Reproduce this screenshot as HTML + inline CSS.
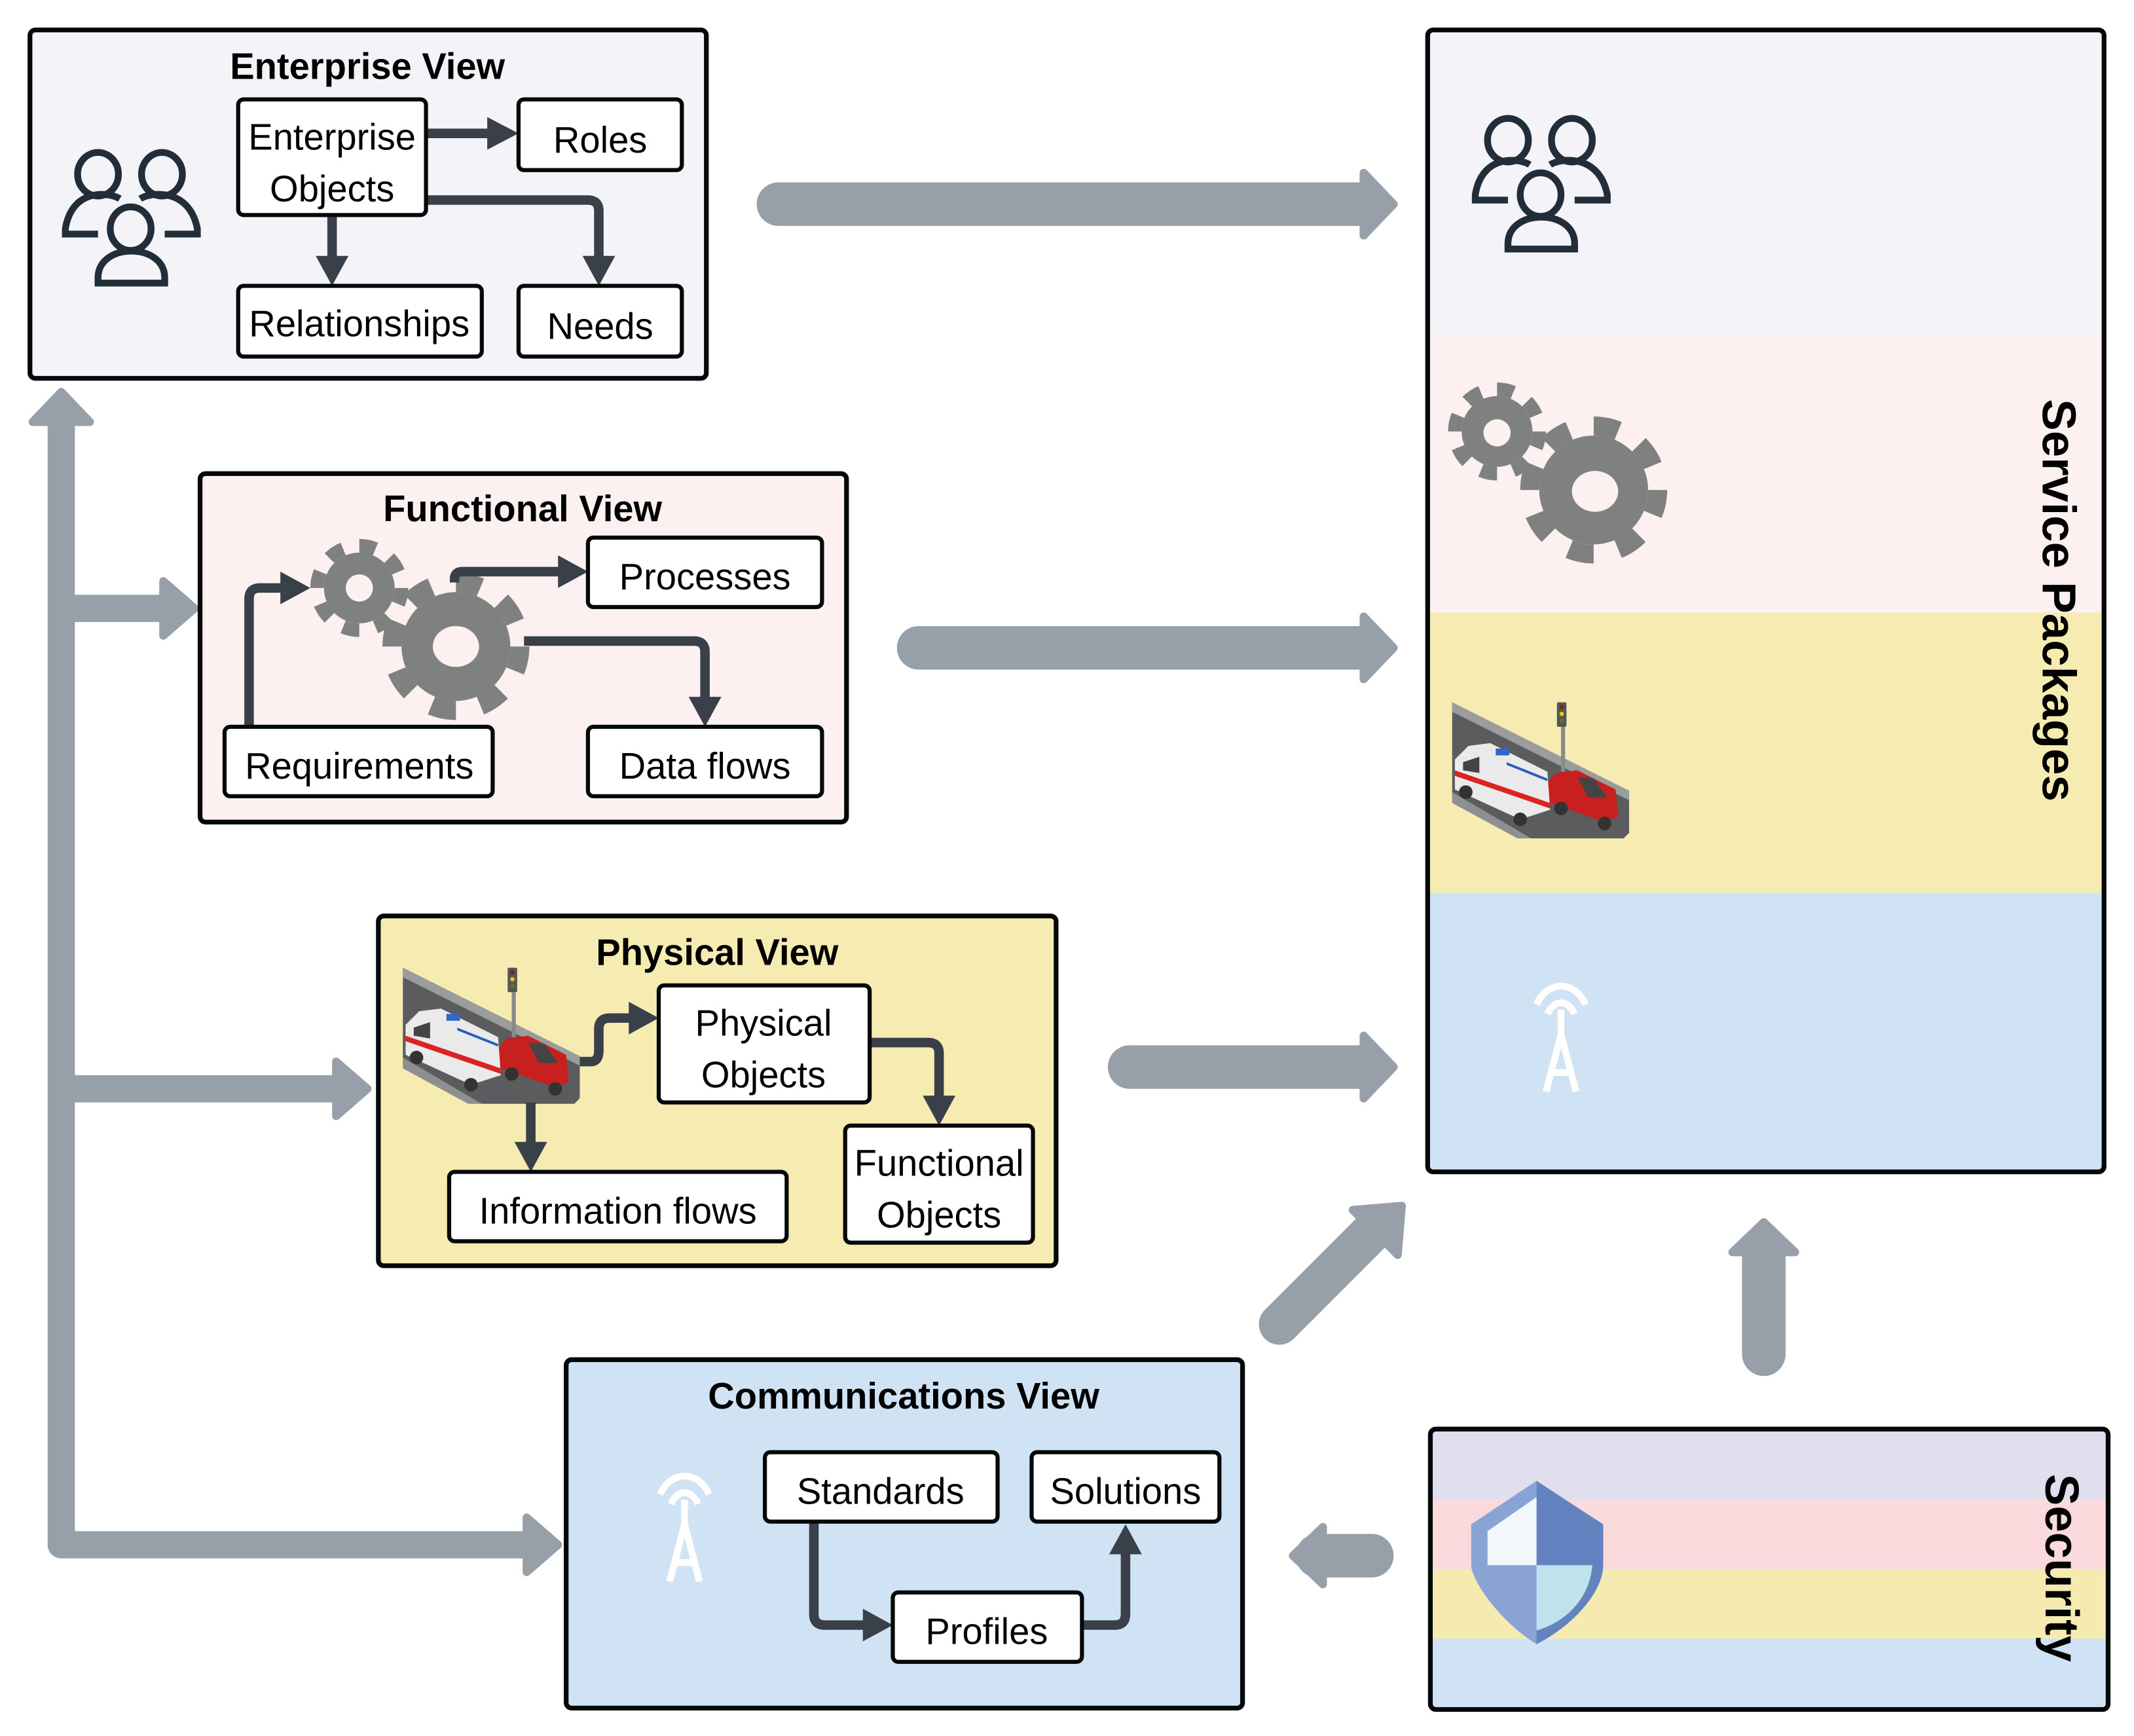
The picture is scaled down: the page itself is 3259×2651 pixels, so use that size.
<!DOCTYPE html>
<html><head><meta charset="utf-8"><style>
html,body{margin:0;padding:0;background:#fff;}
svg{display:block;}
text{font-family:"Liberation Sans",sans-serif;}
</style></head><body>
<svg width="3259" height="2651" viewBox="0 0 1568 1275.5" xmlns="http://www.w3.org/2000/svg">
<defs>
<symbol id="people" viewBox="0 0 104 102" overflow="visible">
<g fill="none" stroke="#222d3a" stroke-width="5">
<ellipse cx="27" cy="20" rx="15" ry="16"/>
<ellipse cx="74" cy="20" rx="15" ry="16"/>
<ellipse cx="51" cy="60" rx="15" ry="16"/>
<path d="M43,38 C35,33 8,30 3,60 L3,64 L27,64"/>
<path d="M58,38 C66,33 94,30 100,60 L100,64 L76,64"/>
<path d="M27,100 L27,96 C27,70 76,70 76,96 L76,100 Z"/>
</g></symbol>
<symbol id="antenna" viewBox="0 0 60 90" overflow="visible">
<g fill="none" stroke="#fff" stroke-width="5">
<path d="M12,26 C20,8 40,8 48,26"/>
<path d="M20,33 C25,22 35,22 40,33"/>
<path d="M30,30 L30,50"/>
<path d="M30,48 L19,90 M30,48 L41,90 M23,76 L37,76"/>
</g></symbol>
<symbol id="road" viewBox="0 0 130 106" overflow="visible">
<polygon points="0,6 130,71 130,102 126,106 58,106 0,77" fill="#5b5c5e"/>
<polygon points="0,6 130,71 130,78 0,13" fill="#9b9c9c"/>
<polygon points="0,72 58,106 48,106 0,80" fill="#8e8f90"/>
<rect x="80" y="12" width="3" height="45" fill="#8a8a8a"/>
<rect x="77" y="6" width="7" height="18" rx="1" fill="#555"/>
<circle cx="80.5" cy="9.5" r="1.6" fill="#7a2020"/><circle cx="80.5" cy="14.5" r="1.6" fill="#f0c800"/><circle cx="80.5" cy="19.5" r="1.6" fill="#5a7a20"/>
<polygon points="66,70 76,58 92,56 120,70 122,90 112,94 72,80" fill="#c8201f"/>
<polygon points="92,61 104,62 114,76 100,76" fill="#444"/>
<circle cx="80" cy="84" r="5" fill="#333"/><circle cx="112" cy="95" r="5" fill="#333"/>
<polygon points="2,48 12,38 28,36 70,57 72,85 50,92 2,70" fill="#eaeaea"/>
<polygon points="2,56 72,80 72,84 2,60" fill="#d22"/>
<polygon points="40,50 70,62 70,64 40,52" fill="#2a5bc0"/>
<rect x="32" y="40" width="10" height="5" fill="#3366cc"/>
<polygon points="8,50 20,46 20,58 8,56" fill="#444"/>
<circle cx="10" cy="72" r="5" fill="#333"/><circle cx="50" cy="92" r="5" fill="#333"/>
</symbol>
<symbol id="gears" viewBox="0 0 170 130" overflow="visible">
<g fill="#7f8080">
<circle cx="37" cy="35" r="26"/>
<circle cx="37" cy="35" r="31" fill="none" stroke="#7f8080" stroke-width="10" stroke-dasharray="12.17 12.17"/>
<circle cx="108" cy="78" r="40"/>
<circle cx="108" cy="78" r="47" fill="none" stroke="#7f8080" stroke-width="14" stroke-dasharray="18.45 18.45"/>
</g></symbol>
</defs>

<!-- gray connectors -->
<g fill="#97a0a9" stroke="#97a0a9">
<path d="M45,1135 L45,300" stroke-width="20" fill="none" stroke-linecap="round"/>
<polygon points="45,288 66,310 24,310" stroke-width="6" stroke-linejoin="round"/>
<path d="M45,447 L125,447" stroke-width="20" fill="none"/>
<polygon points="143,447 120,427 120,467" stroke-width="6" stroke-linejoin="round"/>
<path d="M45,800 L250,800" stroke-width="20" fill="none"/>
<polygon points="270,800 247,780 247,820" stroke-width="6" stroke-linejoin="round"/>
<path d="M45,1135 L390,1135" stroke-width="20" fill="none" stroke-linecap="round"/>
<polygon points="410,1135 387,1115 387,1155" stroke-width="6" stroke-linejoin="round"/>

<path d="M572,150 L1002,150" stroke-width="32" fill="none" stroke-linecap="round"/>
<polygon points="1024,150 1002,127 1002,173" stroke-width="6" stroke-linejoin="round"/>
<path d="M675,476 L1002,476" stroke-width="32" fill="none" stroke-linecap="round"/>
<polygon points="1024,476 1002,453 1002,499" stroke-width="6" stroke-linejoin="round"/>
<path d="M830,784 L1002,784" stroke-width="32" fill="none" stroke-linecap="round"/>
<polygon points="1024,784 1002,761 1002,807" stroke-width="6" stroke-linejoin="round"/>
<path d="M940,973 L1008,905" stroke-width="30" fill="none" stroke-linecap="round"/>
<polygon points="1030,886 994,889 1027,922" stroke-width="6" stroke-linejoin="round"/>
<path d="M1296,995 L1296,920" stroke-width="32" fill="none" stroke-linecap="round"/>
<polygon points="1296,898 1273,920 1319,920" stroke-width="6" stroke-linejoin="round"/>
<path d="M1008,1143 L968,1143" stroke-width="32" fill="none" stroke-linecap="round"/>
<polygon points="950,1143 972,1122 972,1164" stroke-width="6" stroke-linejoin="round"/>
</g>

<!-- Enterprise View -->
<rect x="22" y="22" width="497" height="256" rx="4" fill="#f4f4f8" stroke="#050808" stroke-width="3.5"/>
<text x="270" y="58" font-size="27" font-weight="bold" text-anchor="middle">Enterprise View</text>
<use href="#people" x="45" y="108" width="104" height="102"/>
<g fill="none" stroke="#394049" stroke-width="7">
<path d="M313,98 L362,98"/>
<path d="M244,158 L244,192"/>
<path d="M313,147 L432,147 Q440,147 440,155 L440,192"/>
</g>
<g fill="#394049">
<polygon points="358,86 381,98 358,110"/>
<polygon points="232,188 244,210 256,188"/>
<polygon points="428,188 440,210 452,188"/>
</g>
<g fill="#fff" stroke="#050808" stroke-width="3">
<rect x="175" y="73" width="138" height="85" rx="4"/>
<rect x="381" y="73" width="120" height="52" rx="4"/>
<rect x="175" y="210" width="179" height="52" rx="4"/>
<rect x="381" y="210" width="120" height="52" rx="4"/>
</g>
<g font-size="27" text-anchor="middle">
<text x="244" y="110">Enterprise</text>
<text x="244" y="148">Objects</text>
<text x="441" y="112">Roles</text>
<text x="264" y="247">Relationships</text>
<text x="441" y="249">Needs</text>
</g>

<!-- Functional View -->
<rect x="147" y="348" width="475" height="256" rx="4" fill="#fcf0f0" stroke="#050808" stroke-width="3.5"/>
<text x="384" y="383" font-size="27" font-weight="bold" text-anchor="middle">Functional View</text>
<use href="#gears" x="227" y="397" width="170" height="130"/>
<circle cx="264" cy="432" r="10" fill="#fcf0f0"/>
<ellipse cx="335" cy="475" rx="17" ry="15" fill="#fcf0f0"/>
<g fill="none" stroke="#394049" stroke-width="7">
<path d="M183,534 L183,440 Q183,432 191,432 L210,432"/>
<path d="M334,428 L334,425 Q334,420 340,420 L412,420"/>
<path d="M385,471 L510,471 Q518,471 518,479 L518,514"/>
</g>
<g fill="#394049">
<polygon points="206,420 228,432 206,444"/>
<polygon points="410,408 432,420 410,432"/>
<polygon points="506,512 518,534 530,512"/>
</g>
<g fill="#fff" stroke="#050808" stroke-width="3">
<rect x="432" y="395" width="172" height="51" rx="4"/>
<rect x="165" y="534" width="197" height="51" rx="4"/>
<rect x="432" y="534" width="172" height="51" rx="4"/>
</g>
<g font-size="27" text-anchor="middle">
<text x="518" y="433">Processes</text>
<text x="264" y="572">Requirements</text>
<text x="518" y="572">Data flows</text>
</g>

<!-- Physical View -->
<rect x="278" y="673" width="498" height="257" rx="4" fill="#f6ebb1" stroke="#050808" stroke-width="3.5"/>
<text x="527" y="709" font-size="27" font-weight="bold" text-anchor="middle">Physical View</text>
<use href="#road" x="296" y="705" width="130" height="106"/>
<g fill="none" stroke="#394049" stroke-width="7">
<path d="M426,780 L434,780 Q440,780 440,772 L440,756 Q440,748 448,748 L466,748"/>
<path d="M639,766 L682,766 Q690,766 690,774 L690,807"/>
<path d="M390,810 L390,842"/>
</g>
<g fill="#394049">
<polygon points="462,736 484,748 462,760"/>
<polygon points="678,805 690,827 702,805"/>
<polygon points="378,839 390,861 402,839"/>
</g>
<g fill="#fff" stroke="#050808" stroke-width="3">
<rect x="484" y="724" width="155" height="86" rx="4"/>
<rect x="621" y="827" width="138" height="86" rx="4"/>
<rect x="330" y="861" width="248" height="51" rx="4"/>
</g>
<g font-size="27" text-anchor="middle">
<text x="561" y="761">Physical</text>
<text x="561" y="799">Objects</text>
<text x="690" y="864">Functional</text>
<text x="690" y="902">Objects</text>
<text x="454" y="899">Information flows</text>
</g>

<!-- Communications View -->
<rect x="416" y="999" width="497" height="256" rx="4" fill="#d0e3f4" stroke="#050808" stroke-width="3.5"/>
<text x="664" y="1035" font-size="27" font-weight="bold" text-anchor="middle">Communications View</text>
<use href="#antenna" x="473" y="1072" width="60" height="90"/>
<g fill="none" stroke="#394049" stroke-width="7">
<path d="M598,1118 L598,1186 Q598,1194 606,1194 L636,1194"/>
<path d="M795,1194 L819,1194 Q827,1194 827,1186 L827,1140"/>
</g>
<g fill="#394049">
<polygon points="634,1182 656,1194 634,1206"/>
<polygon points="815,1142 827,1120 839,1142"/>
</g>
<g fill="#fff" stroke="#050808" stroke-width="3">
<rect x="562" y="1067" width="171" height="51" rx="4"/>
<rect x="758" y="1067" width="138" height="51" rx="4"/>
<rect x="656" y="1170" width="139" height="51" rx="4"/>
</g>
<g font-size="27" text-anchor="middle">
<text x="647" y="1105">Standards</text>
<text x="827" y="1105">Solutions</text>
<text x="725" y="1208">Profiles</text>
</g>

<!-- Service Packages -->
<rect x="1049" y="22" width="497" height="223" fill="#f4f4f8"/>
<rect x="1049" y="245" width="497" height="205" fill="#fcf0f0"/>
<rect x="1049" y="450" width="497" height="206" fill="#f6ebb1"/>
<rect x="1049" y="656" width="497" height="205" fill="#d0e3f4"/>
<rect x="1049" y="22" width="497" height="839" rx="4" fill="none" stroke="#050808" stroke-width="3.5"/>
<use href="#people" x="1081" y="83" width="104" height="102"/>
<use href="#gears" x="1063" y="282" width="170" height="130"/>
<circle cx="1100" cy="318" r="10" fill="#fcf0f0"/>
<ellipse cx="1172" cy="361" rx="17" ry="15" fill="#fcf0f0"/>
<use href="#road" x="1067" y="510" width="130" height="106"/>
<use href="#antenna" x="1117" y="712" width="60" height="90"/>
<text transform="translate(1501,441) rotate(90)" font-size="35" font-weight="bold" text-anchor="middle">Service Packages</text>

<!-- Security -->
<rect x="1051" y="1050" width="498" height="52" fill="#e1deee"/>
<rect x="1051" y="1102" width="498" height="51" fill="#fadadd"/>
<rect x="1051" y="1153" width="498" height="51" fill="#f5ebb1"/>
<rect x="1051" y="1204" width="498" height="52" fill="#d0e3f4"/>
<rect x="1051" y="1050" width="498" height="206" rx="4" fill="none" stroke="#050808" stroke-width="3.5"/>
<g>
<path d="M1081,1120 L1129,1088 L1129,1208 C1100,1190 1081,1160 1081,1150 Z" fill="#89a4d4"/>
<path d="M1129,1088 L1178,1120 L1178,1150 C1178,1170 1155,1195 1129,1208 Z" fill="#6283c0"/>
<path d="M1093,1125 L1129,1100 L1129,1150 L1093,1150 Z" fill="#f2f8fa"/>
<path d="M1129,1150 L1170,1150 C1168,1175 1150,1192 1129,1198 Z" fill="#bfe3ec"/>
</g>
<text transform="translate(1503,1152) rotate(90)" font-size="35" font-weight="bold" text-anchor="middle">Security</text>
</svg>
</body></html>
